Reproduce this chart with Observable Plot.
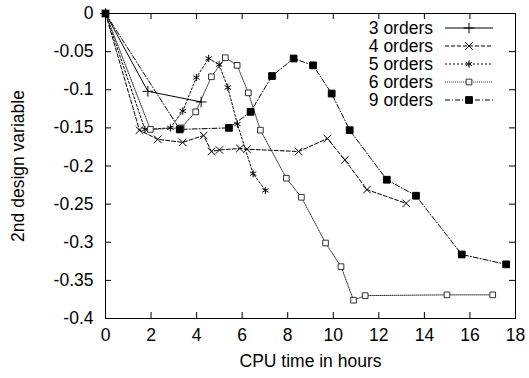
<!DOCTYPE html>
<html>
<head>
<meta charset="utf-8">
<script src="https://cdn.jsdelivr.net/npm/d3@7"></script>
<script src="https://cdn.jsdelivr.net/npm/@observablehq/plot@0.6"></script>
<style>
  html, body { margin: 0; padding: 0; background: #fff; }
  #chart { width: 529px; height: 378px; }
  svg { font-family: "Liberation Sans", Arial, Helvetica, sans-serif; }
</style>
</head>
<body>
<div id="chart"></div>
<script>
// ---- data ----
const seriesNames = ["3 orders", "4 orders", "5 orders", "6 orders", "9 orders"];

const x3 = [0, 1.86, 4.2];
const y3 = [0, -0.102, -0.116];

const x4 = [0, 1.49, 2.29, 3.39, 4.31, 4.65, 5.0, 5.9, 6.21, 8.48, 9.74, 10.51, 11.48, 13.2];
const y4 = [0, -0.153, -0.165, -0.169, -0.160, -0.181, -0.179, -0.177, -0.178, -0.181, -0.164, -0.192, -0.231, -0.249];

const x5 = [0, 1.73, 2.85, 3.39, 3.99, 4.53, 4.99, 5.37, 5.79, 6.48, 7.02];
const y5 = [0, -0.152, -0.150, -0.128, -0.084, -0.059, -0.067, -0.097, -0.145, -0.210, -0.232];

const x6 = [0, 1.97, 3.32, 3.96, 4.65, 5.26, 5.78, 6.27, 6.80, 7.94, 8.6, 9.66, 10.34, 10.89, 11.4, 14.99, 17.0];
const y6 = [0, -0.152, -0.150, -0.129, -0.083, -0.058, -0.068, -0.104, -0.153, -0.216, -0.241, -0.301, -0.332, -0.376, -0.370, -0.369, -0.369];

const x9 = [0, 3.26, 5.42, 6.37, 7.31, 8.26, 9.11, 9.93, 10.72, 12.35, 13.63, 15.64, 17.59];
const y9 = [0, -0.152, -0.150, -0.129, -0.082, -0.059, -0.068, -0.105, -0.153, -0.218, -0.239, -0.316, -0.329];

const xTicks = [0, 2, 4, 6, 8, 10, 12, 14, 16, 18];
const yTicks = [0, -0.05, -0.1, -0.15, -0.2, -0.25, -0.3, -0.35, -0.4];
const yTickLabels = ["0", "-0.05", "-0.1", "-0.15", "-0.2", "-0.25", "-0.3", "-0.35", "-0.4"];

// ---- styles ----
const styles = {
  "3 orders": {dash: null, symbol: "plus", fill: "none", stroke: "#000", r: 3.5},
  "4 orders": {dash: "4,2", symbol: "times", fill: "none", stroke: "#000", r: 3.5},
  "5 orders": {dash: "2,2", symbol: "asterisk", fill: "none", stroke: "#000", r: 3.5},
  "6 orders": {dash: "1,1", symbol: "square", fill: "white", stroke: "#333", r: 3.2},
  "9 orders": {dash: "5,2,1,2", symbol: "square", fill: "#000", stroke: "#000", r: 3.8}
};

const allX = [x3, x4, x5, x6, x9];
const allY = [y3, y4, y5, y6, y9];
const series = seriesNames.map((name, i) => ({
  name,
  data: allX[i].map((x, j) => ({x, y: allY[i][j]}))
}));

const W = 529, H = 378;
const mL = 105, mR = 14, mT = 13, mB = 60;
const innerW = W - mL - mR, innerH = H - mT - mB;
const tickLen = 6;
const FS = 17.5;

const marks = [];
for (const s of series) {
  const st = styles[s.name];
  marks.push(Plot.line(s.data, {x: "x", y: "y", stroke: st.stroke, strokeWidth: 1, strokeDasharray: st.dash}));
}
for (const s of series) {
  const st = styles[s.name];
  marks.push(Plot.dot(s.data, {x: "x", y: "y", symbol: st.symbol, r: st.r, fill: st.fill, stroke: st.stroke, strokeWidth: 1}));
}
// inward ticks on all four sides
marks.push(Plot.tickX(xTicks, {x: d => d, insetTop: innerH - tickLen, stroke: "#000"}));
marks.push(Plot.tickX(xTicks, {x: d => d, insetBottom: innerH - tickLen, stroke: "#000"}));
marks.push(Plot.tickY(yTicks, {y: d => d, insetRight: innerW - tickLen, stroke: "#000"}));
marks.push(Plot.tickY(yTicks, {y: d => d, insetLeft: innerW - tickLen, stroke: "#000"}));
marks.push(Plot.frame({stroke: "#000", strokeWidth: 1}));

const plot = Plot.plot({
  width: W, height: H,
  marginLeft: mL, marginRight: mR, marginTop: mT, marginBottom: mB,
  style: {fontSize: FS + "px", fontFamily: '"Liberation Sans", Arial, sans-serif', color: "#000", background: "#fff"},
  x: {domain: [0, 18], ticks: xTicks, tickSize: 0, tickPadding: 10, label: "CPU time in hours", labelAnchor: "center", labelArrow: "none", labelOffset: 48},
  y: {domain: [-0.4, 0], ticks: yTicks, tickSize: 0, tickPadding: 12,
      tickFormat: d => yTickLabels[yTicks.findIndex(t => Math.abs(t - d) < 1e-9)],
      label: "2nd design variable", labelAnchor: "center", labelArrow: "none", labelOffset: 94},
  marks
});

// ---- legend (inside top-right of plot) ----
const svg = d3.select(plot);
const lg = svg.append("g").attr("class", "legend");
const textRight = 433, lineX1 = 445, lineX2 = 493, markX = 469, row0 = 28, rowStep = 18;
const sym = {plus: d3.symbolPlus, times: d3.symbolTimes, asterisk: d3.symbolAsterisk, square: d3.symbolSquare};
seriesNames.forEach((name, i) => {
  const st = styles[name];
  const yy = row0 + i * rowStep;
  lg.append("text").attr("x", textRight).attr("y", yy).attr("dy", "0.35em")
    .attr("text-anchor", "end").attr("font-size", FS).attr("fill", "#000").text(name);
  lg.append("line").attr("x1", lineX1).attr("x2", lineX2).attr("y1", yy).attr("y2", yy)
    .attr("stroke", st.stroke).attr("stroke-width", 1).attr("stroke-dasharray", st.dash);
  // Plot symbols: size = r^2 * pi
  lg.append("path").attr("transform", `translate(${markX},${yy})`)
    .attr("d", d3.symbol(sym[st.symbol], st.r * st.r * Math.PI)())
    .attr("fill", st.fill).attr("stroke", st.stroke).attr("stroke-width", 1);
});

document.getElementById("chart").appendChild(plot);
</script>
</body>
</html>
